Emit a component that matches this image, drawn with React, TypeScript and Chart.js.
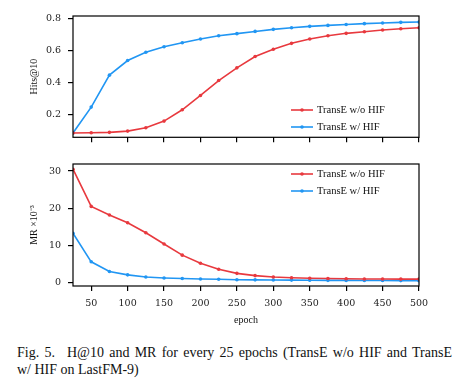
import React, { useEffect, useRef } from "react";
import { Chart, registerables } from "chart.js";

Chart.register(...registerables);

const epochs = [25, 50, 75, 100, 125, 150, 175, 200, 225, 250, 275, 300, 325, 350, 375, 400, 425, 450, 475, 500];
const hitsWithout = [0.083, 0.085, 0.087, 0.095, 0.116, 0.158, 0.229, 0.319, 0.413, 0.493, 0.564, 0.61, 0.647, 0.674, 0.695, 0.71, 0.72, 0.731, 0.739, 0.745];
const hitsWith = [0.083, 0.246, 0.447, 0.539, 0.591, 0.626, 0.651, 0.674, 0.695, 0.708, 0.722, 0.735, 0.745, 0.754, 0.76, 0.766, 0.771, 0.775, 0.779, 0.781];
const mrWithout = [30.5, 20.5, 18.2, 16.1, 13.4, 10.4, 7.4, 5.2, 3.6, 2.5, 1.9, 1.5, 1.3, 1.2, 1.1, 1.05, 1.0, 0.98, 0.95, 0.95];
const mrWith = [13.3, 5.6, 3.0, 2.1, 1.5, 1.25, 1.1, 1.0, 0.9, 0.8, 0.75, 0.7, 0.68, 0.65, 0.62, 0.6, 0.58, 0.56, 0.55, 0.53];
const xTickValues = [50, 100, 150, 200, 250, 300, 350, 400, 450, 500];
const hitsTickValues = [0.2, 0.4, 0.6, 0.8];
const mrTickValues = [0, 10, 20, 30];
const seriesLabels = ["TransE w/o HIF", "TransE w/ HIF"];
const seriesColors = ["#e8393e", "#2196f3"];

const TICK_FONT = { family: "'DejaVu Serif', serif", size: 9.5 };
const TEXT_FONT = "'Liberation Serif', 'Times New Roman', serif";

const framePlugin = {
  id: "frameAndLegend",
  afterDraw(chart: any) {
    const { ctx, chartArea } = chart;
    const opts = chart.options.plugins.frameAndLegend || {};
    ctx.save();
    ctx.strokeStyle = "#000";
    ctx.lineWidth = 1.2;
    ctx.strokeRect(chartArea.left, chartArea.top, chartArea.right - chartArea.left, chartArea.bottom - chartArea.top);
    const lx = chartArea.left + opts.dx;
    let ly = chartArea.top + opts.dy;
    chart.data.datasets.forEach((ds: any) => {
      ctx.strokeStyle = ds.borderColor;
      ctx.lineWidth = 1.6;
      ctx.beginPath();
      ctx.moveTo(lx, ly);
      ctx.lineTo(lx + 22, ly);
      ctx.stroke();
      ctx.fillStyle = ds.borderColor;
      ctx.beginPath();
      ctx.arc(lx + 11, ly, 1.8, 0, Math.PI * 2);
      ctx.fill();
      ctx.fillStyle = "#111";
      ctx.font = `10.5px ${TEXT_FONT}`;
      ctx.textBaseline = "middle";
      ctx.textAlign = "left";
      ctx.fillText(ds.label, lx + 26, ly + 0.5);
      ly += 17;
    });
    ctx.restore();
  },
};

function makeConfig(a: number[], b: number[], yTicks: number[], yMin: number, yMax: number, yTitle: string, showX: boolean, xHeight: number, padTop: number, legend: { dx: number; dy: number }) {
  return {
    type: "line" as const,
    data: {
      labels: epochs,
      datasets: [
        { label: seriesLabels[0], data: epochs.map((x, i) => ({ x, y: a[i] })), borderColor: seriesColors[0], backgroundColor: seriesColors[0], borderWidth: 1.6, pointRadius: 1.8, pointBorderWidth: 0, tension: 0 },
        { label: seriesLabels[1], data: epochs.map((x, i) => ({ x, y: b[i] })), borderColor: seriesColors[1], backgroundColor: seriesColors[1], borderWidth: 1.6, pointRadius: 1.8, pointBorderWidth: 0, tension: 0 },
      ],
    },
    options: {
      animation: false,
      responsive: false,
      maintainAspectRatio: false,
      layout: { padding: { left: 0, right: 41, top: padTop, bottom: 0 } },
      plugins: { legend: { display: false }, tooltip: { enabled: false }, frameAndLegend: legend },
      scales: {
        x: {
          type: "linear",
          min: 25,
          max: 500,
          afterBuildTicks: (s: any) => { s.ticks = xTickValues.map((v) => ({ value: v })); },
          afterFit: (s: any) => { s.height = xHeight; },
          ticks: { display: showX, color: "#222", font: TICK_FONT, padding: 7, maxRotation: 0, autoSkip: false },
          grid: { display: true, drawOnChartArea: false, drawTicks: true, tickLength: 5, color: "#000", lineWidth: 1.2 },
          border: { display: false },
          title: { display: showX, text: "epoch", color: "#111", font: { family: TEXT_FONT, size: 10 }, padding: { top: 0, bottom: 0 } },
        },
        y: {
          type: "linear",
          min: yMin,
          max: yMax,
          afterBuildTicks: (s: any) => { s.ticks = yTicks.map((v) => ({ value: v })); },
          afterFit: (s: any) => { s.width = 73; },
          ticks: { color: "#222", font: TICK_FONT, padding: 7 },
          grid: { display: true, drawOnChartArea: false, drawTicks: true, tickLength: 5, color: "#000", lineWidth: 1.2 },
          border: { display: false },
          title: { display: true, text: yTitle, color: "#111", font: { family: TEXT_FONT, size: 10 }, padding: { top: 28, bottom: 0 } },
        },
      },
    },
    plugins: [framePlugin],
  };
}

function ChartCanvas({ config, top, height }: { config: any; top: number; height: number }) {
  const ref = useRef<HTMLCanvasElement | null>(null);
  useEffect(() => {
    if (!ref.current) return;
    const c = new Chart(ref.current, config);
    return () => c.destroy();
  }, []);
  return <canvas ref={ref} width={460} height={height} style={{ position: "absolute", left: 0, top, width: 460, height }} />;
}

export default function App() {
  const cfgTop = makeConfig(hitsWithout, hitsWith, hitsTickValues, 0.056, 0.819, "Hits@10", false, 12, 16, { dx: 218, dy: 94 });
  const cfgBottom = makeConfig(mrWithout, mrWith, mrTickValues, -0.9, 31.9, "MR ×10⁻³", true, 40, 14, { dx: 218, dy: 10 });
  const capStyle: React.CSSProperties = {
    position: "absolute",
    left: 17,
    width: 435,
    fontFamily: TEXT_FONT,
    fontSize: 14,
    lineHeight: "17px",
    color: "#111",
    whiteSpace: "nowrap",
  };
  return (
    <div style={{ position: "absolute", left: 0, top: 0, width: 460, height: 388, background: "#fff", overflow: "hidden" }}>
      <ChartCanvas config={cfgTop} top={0} height={150} />
      <ChartCanvas config={cfgBottom} top={150} height={176} />
      <div style={{ ...capStyle, top: 344, textAlign: "justify", textAlignLast: "justify", whiteSpace: "normal" }}>
        Fig. 5.<span style={{ display: "inline-block", width: 12 }}></span>H@10 and MR for every 25 epochs (TransE w/o HIF and TransE
      </div>
      <div style={{ ...capStyle, top: 361, textAlign: "left" }}>w/ HIF on LastFM-9)</div>
    </div>
  );
}
